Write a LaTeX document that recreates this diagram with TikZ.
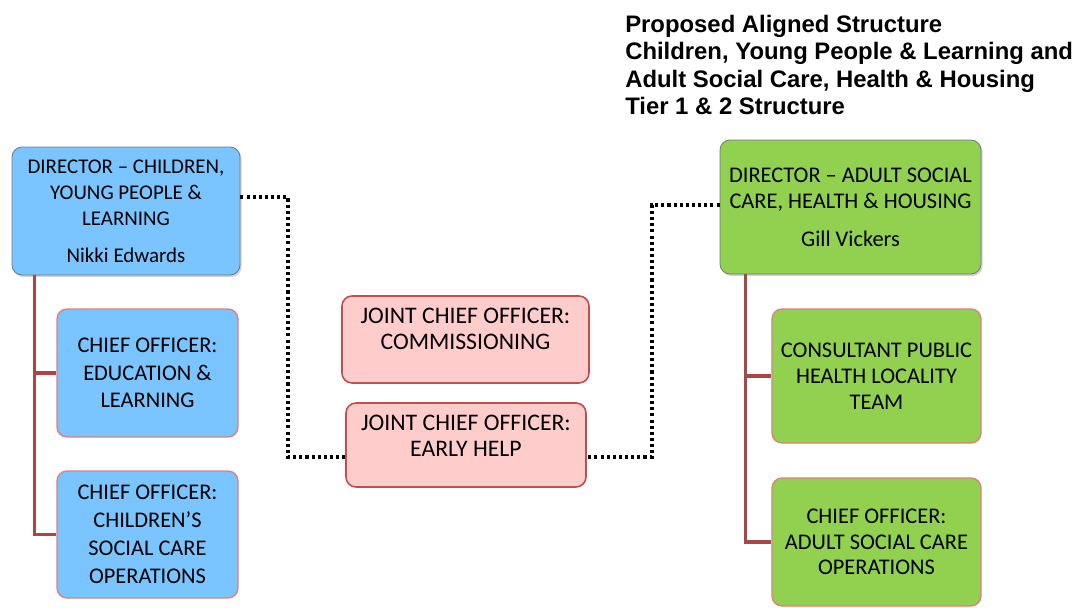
\documentclass[tikz,border=0pt]{standalone}
\usepackage{fontspec}
\setmainfont{Carlito}
\newfontfamily\headfont{Liberation Sans}
\usepackage{tikz}
\usetikzlibrary{calc,shadows}

\definecolor{cypBlue}{RGB}{122,196,255}
\definecolor{ascGreen}{RGB}{146,208,80}
\definecolor{jointPink}{RGB}{255,204,204}
\definecolor{jointEdge}{RGB}{192,80,77}
\definecolor{subEdge}{RGB}{217,130,128}
\definecolor{dirEdge}{RGB}{110,120,135}
\definecolor{trunkRed}{RGB}{165,72,70}

\tikzset{
  unitbox/.style={rounded corners=7.5pt,align=center,inner sep=0pt,
    font=\fontsize{16.8}{20}\selectfont},
  dirbox/.style={unitbox,draw=dirEdge,line width=0.6pt,
    drop shadow={shadow xshift=1.2pt,shadow yshift=-1.5pt,opacity=0.35}},
  subbox/.style={unitbox,draw=subEdge,line width=1pt},
  jointbox/.style={unitbox,draw=jointEdge,fill=jointPink,line width=1.2pt,
    font=\fontsize{17.8}{20}\selectfont},
  trunk/.style={draw=trunkRed,line width=2.3pt},
  jointline/.style={draw=black,line width=2.3pt,dash pattern=on 2.3pt off 2.3pt}
}

\begin{document}
\begin{tikzpicture}[x=0.75pt,y=0.75pt,yscale=-1]
\useasboundingbox (0,0) rectangle (1080,607);

% Title
\draw (625,15) node [anchor=north west,inner sep=0pt,align=left,
  font=\headfont\fontsize{17.9}{20.5}\selectfont\bfseries] (title)
  {Proposed Aligned Structure\\Children, Young People \& Learning and\\
   Adult Social Care, Health \& Housing\\Tier 1 \& 2 Structure};

% Children, Young People & Learning
\draw (126,211) node [dirbox,fill=cypBlue,minimum width=171pt,minimum height=96pt,
  font=\fontsize{15.7}{19.5}\selectfont] (dirCYP)
  {DIRECTOR -- CHILDREN,\\YOUNG PEOPLE \&\\LEARNING\\[8pt]Nikki Edwards};
\draw (147.5,373) node [subbox,fill=cypBlue,minimum width=135.75pt,minimum height=96pt,
  font=\fontsize{16.8}{20.5}\selectfont] (coEdu)
  {CHIEF OFFICER:\\EDUCATION \&\\LEARNING};
\draw (147.5,534.5) node [subbox,fill=cypBlue,minimum width=135.75pt,minimum height=95.25pt,
  font=\fontsize{16.8}{21}\selectfont] (coCSC)
  {CHIEF OFFICER:\\CHILDREN’S\\SOCIAL CARE\\OPERATIONS};

% Joint posts
\draw (465.5,339.5) node [jointbox,minimum width=185.25pt,minimum height=65.25pt] (jcoComm)
  {JOINT CHIEF OFFICER:\\COMMISSIONING\\[-4pt]\mbox{}};
\draw (466,445) node [jointbox,minimum width=180pt,minimum height=63pt] (jcoEH)
  {JOINT CHIEF OFFICER:\\EARLY HELP\\[-6pt]\mbox{}};

% Adult Social Care, Health & Housing
\draw (850.5,207) node [dirbox,fill=ascGreen,minimum width=195.75pt,minimum height=100.5pt] (dirASC)
  {DIRECTOR -- ADULT SOCIAL\\CARE, HEALTH \& HOUSING\\[8pt]Gill Vickers};
\draw (876.5,376) node [subbox,fill=ascGreen,minimum width=156.75pt,minimum height=100.5pt,
  font=\fontsize{16.8}{19.3}\selectfont] (cphLT)
  {CONSULTANT PUBLIC\\HEALTH LOCALITY\\TEAM};
\draw (876.5,542) node [subbox,fill=ascGreen,minimum width=156.75pt,minimum height=96pt,
  font=\fontsize{16.8}{19}\selectfont] (coASC)
  {CHIEF OFFICER:\\ADULT SOCIAL CARE\\OPERATIONS};

% Line management
\draw [trunk] ($(dirCYP.south west)+(23,0)$) |- (coEdu.west);
\draw [trunk] ($(dirCYP.south west)+(23,0)$) |- (coCSC.west);
\draw [trunk] ($(dirASC.south west)+(26,0)$) |- (cphLT.west);
\draw [trunk] ($(dirASC.south west)+(26,0)$) |- (coASC.west);

% Joint working
\coordinate (lnkL) at (288,457);
\coordinate (lnkR) at (652,457);
\draw [jointline] ($(dirCYP.east)+(0,-14)$) -| (lnkL) -- (jcoEH.west |- lnkL);
\draw [jointline] ($(jcoComm.west)+(0,-4)$) -- ($(jcoComm.west)+(0,-4)$ -| lnkL);
\draw [jointline] ($(dirASC.west)+(0,-2)$) -| (lnkR) -- (jcoEH.east |- lnkR);
\draw [jointline] ($(jcoComm.east)+(0,-4)$) -- ($(jcoComm.east)+(0,-4)$ -| lnkR);

\end{tikzpicture}
\end{document}
